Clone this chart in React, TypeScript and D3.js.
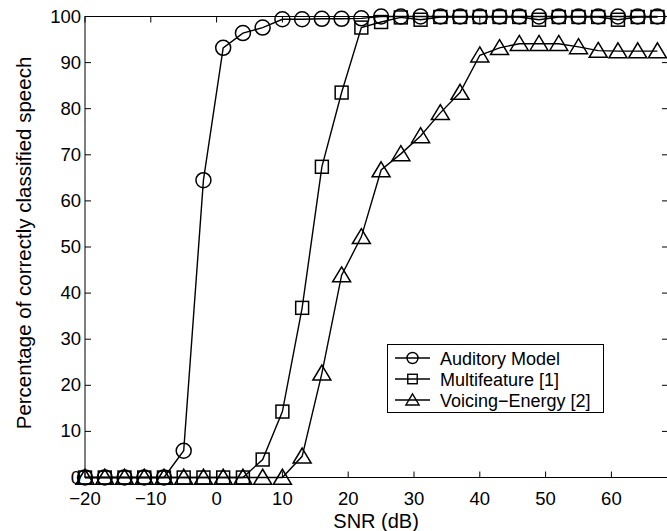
import React, { useEffect, useRef } from 'react';
import * as d3 from 'd3';

// SNR values (dB) shared by all three curves
const snr = [-20, -17, -14, -11, -8, -5, -2, 1, 4, 7, 10, 13, 16, 19, 22, 25, 28, 31, 34, 37, 40, 43, 46, 49, 52, 55, 58, 61, 64, 67];

const auditoryModel = [0, 0, 0, 0, 0, 5.8, 64.5, 93.2, 96.4, 97.6, 99.4, 99.4, 99.5, 99.5, 99.6, 100, 100, 100, 100, 100, 100, 100, 100, 100, 100, 100, 100, 100, 100, 100];
const multifeature = [0, 0, 0, 0, 0, 0, 0, 0, 0, 3.9, 14.3, 36.8, 67.4, 83.5, 97.6, 98.8, 99.8, 99.3, 99.9, 99.9, 99.9, 99.9, 99.9, 99.3, 99.9, 99.9, 99.9, 99.3, 99.9, 99.9];
const voicingEnergy = [0, 0, 0, 0, 0, 0, 0, 0, 0, 0, 0, 4.6, 22.6, 43.9, 52.2, 66.7, 70.2, 74.1, 79.1, 83.5, 91.6, 93.2, 94.1, 94.1, 94.1, 93.4, 92.6, 92.5, 92.5, 92.5];

const seriesNames = ['Auditory Model', 'Multifeature [1]', 'Voicing\u2212Energy [2]'];
const seriesMarkers = ['circle', 'square', 'triangle'];

const xTicks = [-20, -10, 0, 10, 20, 30, 40, 50, 60];
const yTicks = [0, 10, 20, 30, 40, 50, 60, 70, 80, 90, 100];

const FONT = '"Liberation Sans", Arial, Helvetica, sans-serif';

function drawMarker(g: any, kind: string, cx: number, cy: number, size: number) {
  if (kind === 'circle') {
    g.append('circle').attr('cx', cx).attr('cy', cy).attr('r', size * 0.5);
  } else if (kind === 'square') {
    const s = size * 0.86;
    g.append('rect').attr('x', cx - s / 2).attr('y', cy - s / 2).attr('width', s).attr('height', s);
  } else {
    const w = size * 1.2;
    const h = size * 1.0;
    g.append('path').attr('d',
      'M' + cx + ',' + (cy - h * 0.55) +
      'L' + (cx + w / 2) + ',' + (cy + h * 0.45) +
      'L' + (cx - w / 2) + ',' + (cy + h * 0.45) + 'Z');
  }
}

export default function App() {
  const ref = useRef<SVGSVGElement>(null);

  useEffect(() => {
    const svg = d3.select(ref.current);
    svg.selectAll('*').remove();

    const left = 85, top = 16.5, bottom = 477.5;
    const x = d3.scaleLinear().domain([-20, 68.6]).range([left, left + 88.6 * 6.58]);
    const y = d3.scaleLinear().domain([0, 100]).range([bottom, top]);
    const right = x(68.6);

    // frame
    svg.append('rect')
      .attr('x', left).attr('y', top)
      .attr('width', right - left).attr('height', bottom - top)
      .attr('fill', 'none').attr('stroke', '#000').attr('stroke-width', 1);

    const axes = svg.append('g').attr('stroke', '#000').attr('stroke-width', 1);
    const tl = 6;
    xTicks.forEach((t) => {
      axes.append('line').attr('x1', x(t)).attr('x2', x(t)).attr('y1', bottom).attr('y2', bottom - tl);
      axes.append('line').attr('x1', x(t)).attr('x2', x(t)).attr('y1', top).attr('y2', top + tl);
    });
    yTicks.forEach((t) => {
      axes.append('line').attr('x1', left).attr('x2', left + tl).attr('y1', y(t)).attr('y2', y(t));
      axes.append('line').attr('x1', right).attr('x2', right - tl).attr('y1', y(t)).attr('y2', y(t));
    });

    const labels = svg.append('g').attr('font-family', FONT).attr('font-size', 18.5).attr('fill', '#000');
    xTicks.forEach((t) => {
      labels.append('text')
        .attr('x', x(t)).attr('y', bottom + 27.5)
        .attr('text-anchor', 'middle')
        .text(t < 0 ? '\u2212' + Math.abs(t) : String(t));
    });
    yTicks.forEach((t) => {
      labels.append('text')
        .attr('x', left - 4).attr('y', y(t) + 6)
        .attr('text-anchor', 'end')
        .text(String(t));
    });

    labels.append('text')
      .attr('x', (x(20) + x(30)) / 2 - 5).attr('y', 528)
      .attr('font-size', 20)
      .attr('text-anchor', 'middle')
      .text('SNR (dB)');

    labels.append('text')
      .attr('transform', 'translate(31,243) rotate(-90)')
      .attr('font-size', 20.5)
      .attr('text-anchor', 'middle')
      .text('Percentage of correctly classified speech');

    const allSeries = [auditoryModel, multifeature, voicingEnergy];
    const line = d3.line<number>()
      .x((d, i) => x(snr[i]))
      .y((d) => y(d));

    allSeries.forEach((values, si) => {
      const g = svg.append('g');
      g.append('path')
        .attr('d', line(values))
        .attr('fill', 'none').attr('stroke', '#000').attr('stroke-width', 1.4);
      const mg = g.append('g').attr('fill', 'none').attr('stroke', '#000').attr('stroke-width', 1.5);
      values.forEach((v, i) => {
        drawMarker(mg, seriesMarkers[si], x(snr[i]), y(v), 15);
      });
    });

    // legend
    const lg = svg.append('g');
    lg.append('rect')
      .attr('x', 387.5).attr('y', 344.5).attr('width', 216).attr('height', 68)
      .attr('fill', '#fff').attr('stroke', '#000').attr('stroke-width', 1);
    seriesNames.forEach((name, i) => {
      const cy = 358 + i * 21;
      lg.append('line').attr('x1', 395).attr('x2', 430).attr('y1', cy).attr('y2', cy)
        .attr('stroke', '#000').attr('stroke-width', 1.4);
      const mg = lg.append('g').attr('fill', 'none').attr('stroke', '#000').attr('stroke-width', 1.4);
      drawMarker(mg, seriesMarkers[i], 412.5, cy, 11);
      lg.append('text')
        .attr('x', 440).attr('y', cy + 6.5)
        .attr('font-family', FONT).attr('font-size', 18)
        .text(name);
    });
  }, []);

  return (
    <svg
      ref={ref}
      width={667}
      height={531}
      style={{ position: 'absolute', left: 0, top: 0, background: '#fff' }}
    />
  );
}
